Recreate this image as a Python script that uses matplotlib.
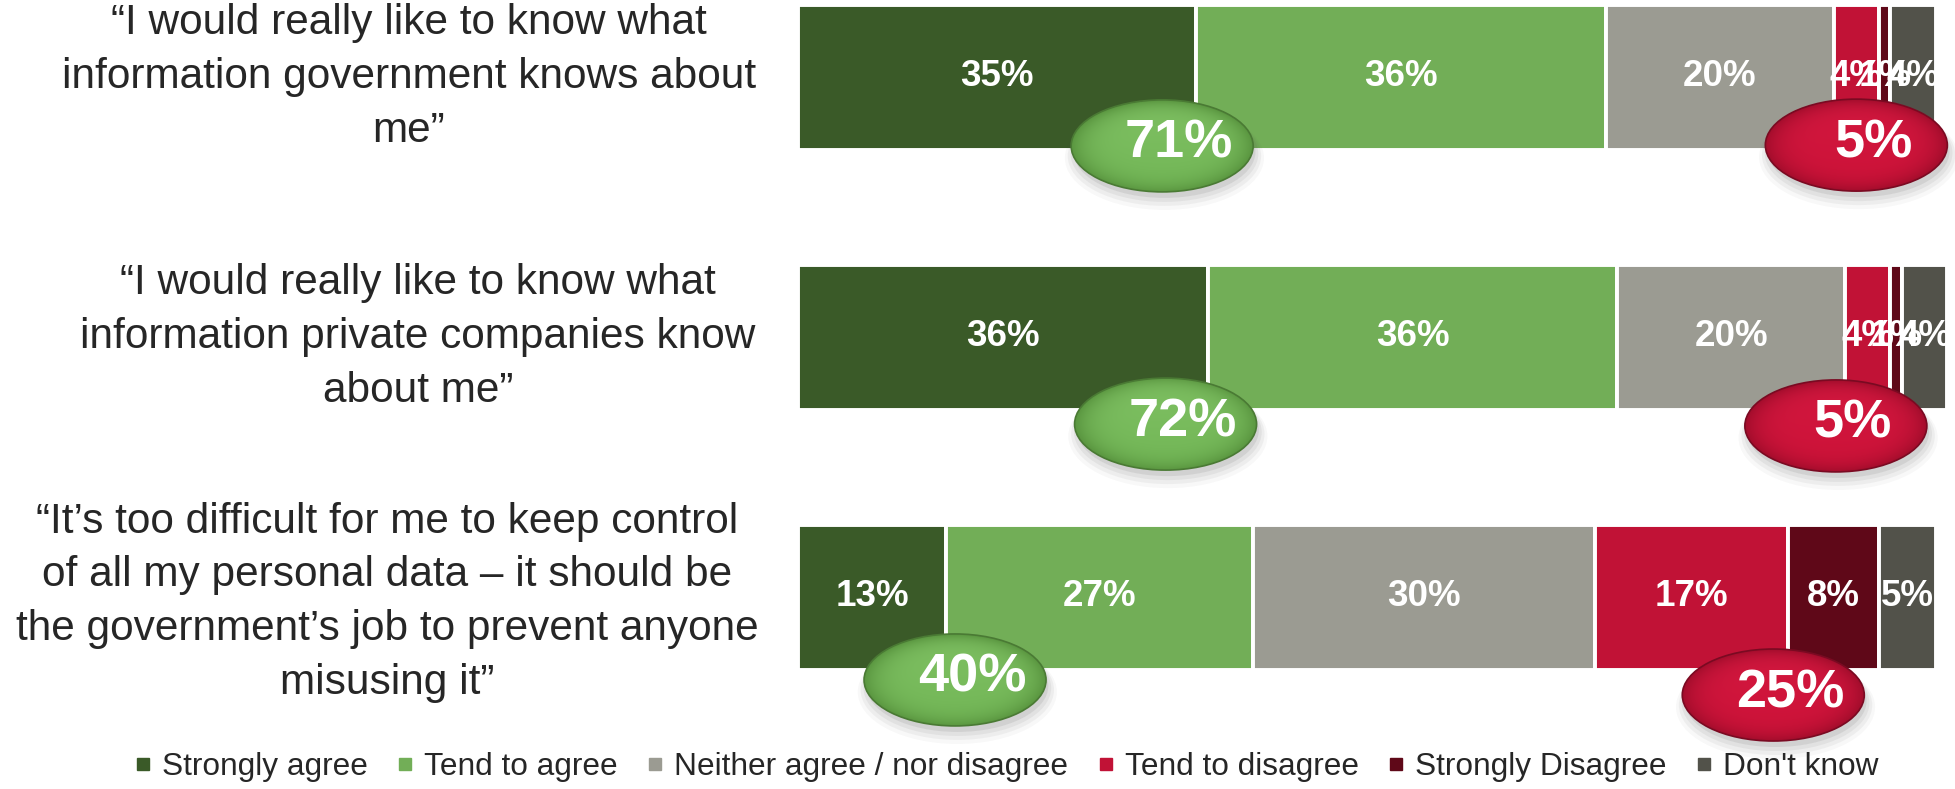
import numpy as np
import matplotlib
matplotlib.use("Agg")
import matplotlib.pyplot as plt
from matplotlib.patches import Ellipse
from matplotlib.lines import Line2D
from matplotlib.colors import to_rgb
from matplotlib.transforms import blended_transform_factory

# ---- data -------------------------------------------------------------
statements = [
    "“I would really like to know what\ninformation government knows about\nme”",
    "“I would really like to know what\ninformation private companies know\nabout me”",
    "“It’s too difficult for me to keep control\nof all my personal data – it should be\n"
    "the government’s job to prevent anyone\nmisusing it”",
]
categories = ["Strongly agree", "Tend to agree", "Neither agree / nor disagree",
              "Tend to disagree", "Strongly Disagree", "Don't know"]
strongly_agree = [35, 36, 13]
tend_to_agree = [36, 36, 27]
neither = [20, 20, 30]
tend_to_disagree = [4, 4, 17]
strongly_disagree = [1, 1, 8]
dont_know = [4, 4, 5]

series = [strongly_agree, tend_to_agree, neither,
          tend_to_disagree, strongly_disagree, dont_know]
colors = ["#3a5a28", "#72ae57", "#9b9b92", "#c11236", "#5f0818", "#52524a"]

# ---- layout -----------------------------------------------------------
W, H = 1956, 789
FONT = ["Liberation Sans", "DejaVu Sans"]
plt.rcParams["font.family"] = FONT

fig = plt.figure(figsize=(W / 100, H / 100), dpi=100)
ax_left = 798
ax = fig.add_axes([ax_left / W, 0, (W - ax_left) / W, 1])
px_x = 11.38          # pixels per percentage point
px_y = 260.0          # pixels per row
top_row_px = 77
XLIM = (0, (W - ax_left) / px_x)
YLIM = ((H - top_row_px) / px_y, -top_row_px / px_y)
ax.set_xlim(*XLIM)
ax.set_ylim(*YLIM)
ax.axis("off")

rows = np.arange(len(statements))
bar_h = 145 / px_y

left = np.zeros(len(rows))
for vals, col in zip(series, colors):
    vals = np.asarray(vals, dtype=float)
    ax.barh(rows, vals, left=left, height=bar_h, color=col,
            edgecolor="white", linewidth=2.8, zorder=2)
    for r, v, l in zip(rows, vals, left):
        ax.text(l + v / 2, r, f"{int(v)}%", ha="center", va="center",
                color="white", fontsize=26.5, fontweight="bold", zorder=3)
    left += vals

# statements on the left
trans = blended_transform_factory(fig.transFigure, ax.transData)
text_x = [409, 418, 387]
text_dy = [0.0, 0.0, 0.02]
for r, s, tx, dy in zip(rows, statements, text_x, text_dy):
    ax.text(tx / W, r + dy, s, transform=trans, ha="center", va="center",
            multialignment="center", fontsize=30.5, color="#262626",
            linespacing=1.44)

# ---- summary ellipses -------------------------------------------------
agree_tot = [a + b for a, b in zip(strongly_agree, tend_to_agree)]
disagree_tot = [a + b for a, b in zip(tend_to_disagree, strongly_disagree)]

ell_w = 182 / px_x
ell_h = 92 / px_y
green_pos = [(32.0, 0.265), (32.3, 0.335), (13.8, 0.319)]
red_pos = [(93.0, 0.262), (91.2, 0.342), (85.7, 0.377)]


def gel(cx, cy, base, top, rim, outline, label):
    # soft drop shadow
    for k, a in enumerate([0.10, 0.08, 0.06, 0.04]):
        sh = Ellipse((cx + 0.2, cy + (6 + 2 * k) / px_y), ell_w + k * 0.5,
                     ell_h + k * 4 / px_y, facecolor="#505050", edgecolor="none",
                     alpha=a, zorder=4)
        ax.add_patch(sh)
    e = Ellipse((cx, cy), ell_w, ell_h, facecolor="none", edgecolor=outline,
                linewidth=1.2, zorder=6)
    ax.add_patch(e)
    n = 200
    u = np.linspace(-1, 1, n)
    uu, vv = np.meshgrid(u, u)
    rr = np.sqrt(uu ** 2 + vv ** 2).clip(0, 1)
    t = rr ** 5
    b = np.array(to_rgb(base))
    tp = np.array(to_rgb(top))
    c = np.array(to_rgb(rim))
    s = ((1 - vv) / 2)[..., None]           # 1 at top row, 0 at bottom
    body = b[None, None, :] * (1 - s * 0.6) + tp[None, None, :] * s * 0.6
    img = body * (1 - t[..., None]) + c[None, None, :] * t[..., None]
    im = ax.imshow(np.clip(img, 0, 1),
                   extent=(cx - ell_w / 2, cx + ell_w / 2,
                           cy + ell_h / 2, cy - ell_h / 2),
                   origin="upper", aspect="auto", zorder=5,
                   interpolation="bilinear")
    im.set_clip_path(e)
    ax.text(cx + 17 / px_x, cy - 2 / px_y, label, ha="center", va="center",
            color="white", fontsize=39, fontweight="bold", zorder=7)


for r in rows:
    gx, gy = green_pos[r]
    gel(gx, r + gy, "#72b656", "#88c86c", "#5a9640", "#4a7a34",
        f"{agree_tot[r]}%")
    rx, ry = red_pos[r]
    gel(rx, r + ry, "#cc1238", "#d81c44", "#a30d2c", "#7a0a22",
        f"{disagree_tot[r]}%")

ax.set_xlim(*XLIM)
ax.set_ylim(*YLIM)

# ---- legend -----------------------------------------------------------
handles = [Line2D([], [], marker="s", linestyle="none", markersize=9,
                  markerfacecolor=c, markeredgecolor=c) for c in colors]
fig.legend(handles, categories, ncol=6, loc="center",
           bbox_to_anchor=(1006 / W, 1 - 767 / H), frameon=False,
           fontsize=22.8, handlelength=0.6, handletextpad=0.3,
           columnspacing=0.88, labelcolor="#262626")

fig.savefig("out.png", dpi=100)
